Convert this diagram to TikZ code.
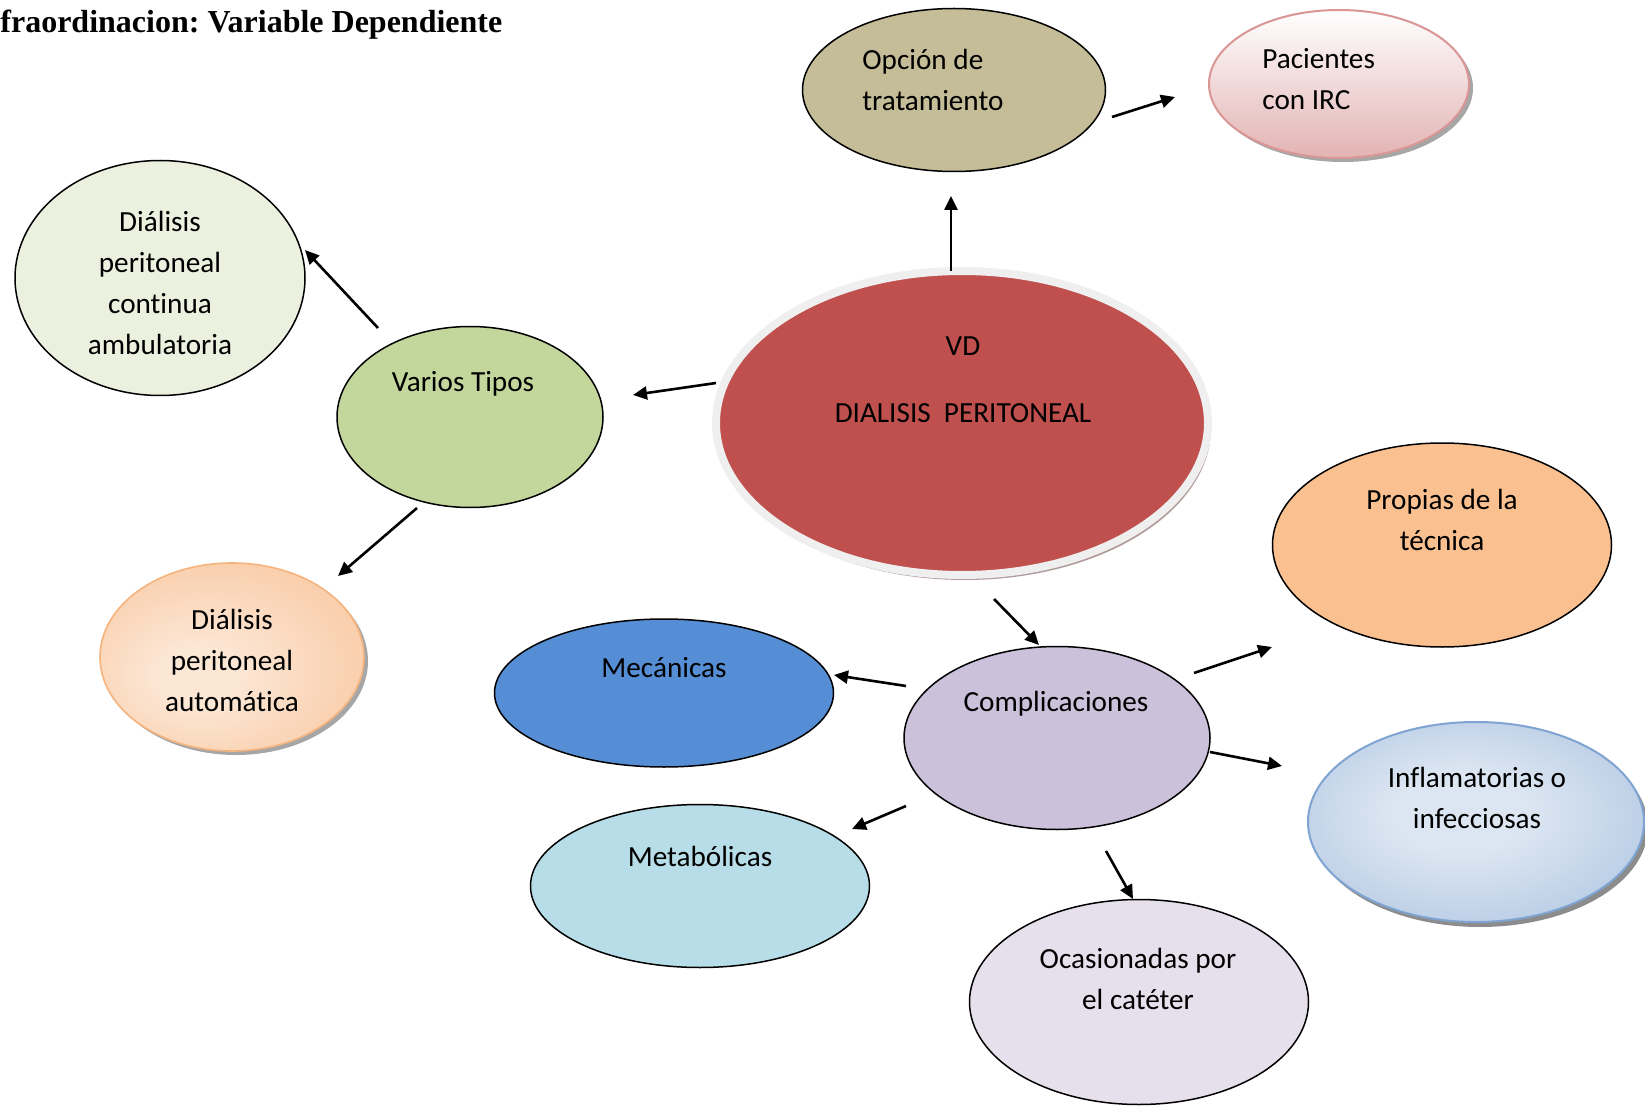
\documentclass[tikz,border=0pt]{standalone}
\usepackage{fontspec}
\setmainfont{Carlito}[Ligatures=NoCommon]
\newfontfamily\headserif{Liberation Serif}
\frenchspacing
\usetikzlibrary{shapes.geometric,arrows.meta,shadows}

\definecolor{tanfill}{HTML}{C4BD97}
\definecolor{redfill}{HTML}{C0504D}
\definecolor{rimgray}{HTML}{EFEFEF}
\definecolor{greenfill}{HTML}{C3D69B}
\definecolor{palegreen}{HTML}{EBF1DE}
\definecolor{bluefill}{HTML}{558ED5}
\definecolor{aquafill}{HTML}{B7DEE8}
\definecolor{lilacfill}{HTML}{CCC1DA}
\definecolor{palelilac}{HTML}{E6E0EC}
\definecolor{orangefill}{HTML}{FAC090}
\definecolor{pinkedge}{HTML}{D99694}
\definecolor{pinklow}{HTML}{E3B3B3}
\definecolor{peachin}{HTML}{FCE6D4}
\definecolor{peachout}{HTML}{F7B784}
\definecolor{peachedge}{HTML}{F5B37E}
\definecolor{skyin}{HTML}{DCE6F2}
\definecolor{skyout}{HTML}{93B1D7}
\definecolor{skyedge}{HTML}{7FA4D2}

% soft glows for the two shaded bubbles
\pgfdeclareradialshading{peachglow}{\pgfpoint{-8bp}{-6bp}}{color(0bp)=(peachin); color(8bp)=(peachin); color(50bp)=(peachout)}
\pgfdeclareradialshading{skyglow}{\pgfpoint{-3bp}{3bp}}{color(0bp)=(skyin); color(10bp)=(skyin); color(50bp)=(skyout)}

\tikzset{
  bubble/.style={ellipse, inner sep=0pt, outer sep=0pt},
  outlined/.style={bubble, draw=black, line width=0.75pt},
  softshadow/.style={drop shadow={shadow xshift=2pt, shadow yshift=-2pt, fill=black, opacity=0.35}},
  lbl/.style={font=\fontsize{14.6pt}{20.5pt}\selectfont, align=center, inner sep=0pt},
  lbleft/.style={lbl, align=left, anchor=west},
  conn/.style={-{Triangle[length=7pt,width=6.5pt]}, line width=1.3pt, black}
}

\begin{document}
\begin{tikzpicture}[x=0.5pt,y=-0.5pt]
  \useasboundingbox[fill=white] (0,0) rectangle (1645,1107);

  % heading
  \node[anchor=base west, inner sep=0pt, font=\headserif\bfseries\fontsize{16pt}{19pt}\selectfont] (head) at (0,33) {fraordinacion: Variable Dependiente};

  % central concept
  \node[bubble, fill=redfill, draw=rimgray, line width=4pt, minimum width=246pt, minimum height=152pt,
        drop shadow={shadow xshift=1.5pt, shadow yshift=-2.5pt, fill=black!55!redfill, opacity=0.45}] (vd) at (962,423) {};
  \node[lbl] (vd-t) at (963,380.5) {\strut VD\\[13pt]\strut DIALISIS\ \ PERITONEAL};

  % upper branch
  \node[outlined, fill=tanfill, minimum width=151.5pt, minimum height=81.5pt] (opc) at (954,90) {};
  \node[lbleft] (opc-t) at (862,81.5) {\strut Opción de\\\strut tratamiento};

  \node[bubble, top color=white, bottom color=pinklow, draw=pinkedge, line width=1pt,
        minimum width=130pt, minimum height=74pt, softshadow] (pac) at (1339,84) {};
  \node[lbleft] (pac-t) at (1262,81) {\strut Pacientes\\\strut con IRC};

  % left branch
  \node[outlined, fill=greenfill, minimum width=133pt, minimum height=90.5pt] (var) at (470,417) {};
  \node[lbl] (var-t) at (463,383) {\strut Varios Tipos};

  \node[outlined, fill=palegreen, minimum width=145pt, minimum height=117.5pt] (dpca) at (160,278) {};
  \node[lbl] (dpca-t) at (160,284.5) {\strut Diálisis\\\strut peritoneal\\\strut continua\\\strut ambulatoria};

  \node[bubble, shading=peachglow, draw=peachedge, line width=0.8pt,
        minimum width=132pt, minimum height=94pt, softshadow] (dpa) at (232,657) {};
  \node[lbl] (dpa-t) at (232,662) {\strut Diálisis\\\strut peritoneal\\\strut automática};

  % complications branch
  \node[outlined, fill=lilacfill, minimum width=153pt, minimum height=91.5pt] (com) at (1057,738) {};
  \node[lbl] (com-t) at (1056,703) {\strut Complicaciones};

  \node[outlined, fill=bluefill, minimum width=169.5pt, minimum height=74pt] (mec) at (664,693) {};
  \node[lbl] (mec-t) at (664,669) {\strut Mecánicas};

  \node[outlined, fill=aquafill, minimum width=169.5pt, minimum height=81.5pt] (met) at (700,886) {};
  \node[lbl] (met-t) at (700,858) {\strut Metabólicas};

  \node[outlined, fill=orangefill, minimum width=169.5pt, minimum height=102pt] (pro) at (1442,545) {};
  \node[lbl] (pro-t) at (1442,522) {\strut Propias de la\\\strut técnica};

  \node[bubble, shading=skyglow, draw=skyedge, line width=1pt,
        minimum width=168pt, minimum height=100pt,
        drop shadow={shadow xshift=2pt, shadow yshift=-2.5pt, fill=black, opacity=0.45}] (inf) at (1476,822) {};
  \node[lbl] (inf-t) at (1477,800) {\strut Inflamatorias o\\\strut infecciosas};

  \node[outlined, fill=palelilac, minimum width=169.5pt, minimum height=102.5pt] (oca) at (1139,1002) {};
  \node[lbl] (oca-t) at (1138,981) {\strut Ocasionadas por\\\strut el catéter};

  % arrow ends, set apart from the bubbles
  \coordinate (vd-up)    at (951,271);  \coordinate (opc-in)  at (951,196);
  \coordinate (opc-out)  at (1112,117); \coordinate (pac-in)  at (1175,97);
  \coordinate (vd-left)  at (716,383);  \coordinate (var-in)  at (633,395);
  \coordinate (var-up)   at (378,328);  \coordinate (dpca-in) at (305,250);
  \coordinate (var-down) at (417,508);  \coordinate (dpa-in)  at (338,576);
  \coordinate (vd-down)  at (994,599);  \coordinate (com-in)  at (1039,645);
  \coordinate (com-w)    at (906,686);  \coordinate (mec-in)  at (834,675);
  \coordinate (com-sw)   at (906,806);  \coordinate (met-in)  at (852,829);
  \coordinate (com-ne)   at (1194,673); \coordinate (pro-in)  at (1272,647);
  \coordinate (com-e)    at (1210,752); \coordinate (inf-in)  at (1282,766);
  \coordinate (com-s)    at (1106,851); \coordinate (oca-in)  at (1133,899);

  \draw[conn] (vd-up) -- (opc-in);
  \draw[conn] (opc-out) -- (pac-in);
  \draw[conn] (vd-left) -- (var-in);
  \draw[conn] (var-up) -- (dpca-in);
  \draw[conn] (var-down) -- (dpa-in);
  \draw[conn] (vd-down) -- (com-in);
  \draw[conn] (com-w) -- (mec-in);
  \draw[conn] (com-sw) -- (met-in);
  \draw[conn] (com-ne) -- (pro-in);
  \draw[conn] (com-e) -- (inf-in);
  \draw[conn] (com-s) -- (oca-in);
\end{tikzpicture}
\end{document}
